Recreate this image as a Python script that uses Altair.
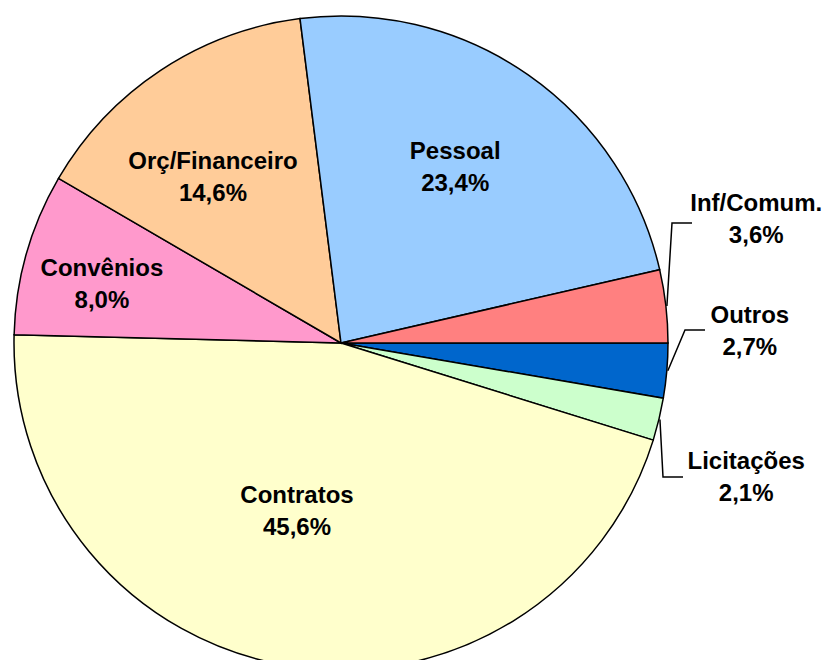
import math
import altair as alt
import pandas as pd

# ---- data ----
categories = ["Outros", "Licitações", "Contratos", "Convênios",
              "Orç/Financeiro", "Pessoal", "Inf/Comum."]
shares = [2.7, 2.1, 45.6, 8.0, 14.6, 23.4, 3.6]
share_labels = ["2,7%", "2,1%", "45,6%", "8,0%", "14,6%", "23,4%", "3,6%"]

# ---- style ----
colors = ["#0066CC", "#CCFFCC", "#FFFFCC", "#FF99CC", "#FFCC99", "#99CCFF", "#FF8080"]
W, H = 816, 652
CX, CY, R = 333, 335, 327
START = math.pi / 2  # first slice starts at 3 o'clock
LINE_H = 32
FONT_SIZE = 24
# label placement relative to each slice's mid-angle
label_radius = [409, 427, 175, 246, 209, 209, 433]
label_shift_deg = [-6.4, 4.9, 5.2, -2.2, -4.3, -1.8, -10.0]
# leader lines (elbow and end points) for the small slices
leader_elbow = {"Inf/Comum.": (664, 215), "Outros": (677, 322), "Licitações": (655, 469)}
leader_end = {"Inf/Comum.": (684, 215), "Outros": (697, 322), "Licitações": (675, 469)}
FONT = "Liberation Sans"

total = sum(shares)
order = list(range(len(categories)))
df = pd.DataFrame({"cat": categories, "share": shares, "ord": order})

# mid-angles computed from the data
mids = []
acc = 0.0
for s in shares:
    mids.append(START + 2 * math.pi * (acc + s / 2) / total)
    acc += s

lab_rows = []
for c, lbl, m, r, sh in zip(categories, share_labels, mids, label_radius, label_shift_deg):
    a = m + math.radians(sh)
    lab_rows.append({"cat": c, "txt": c + "\n" + lbl,
                     "px": CX + r * math.sin(a),
                     "py": CY - r * math.cos(a) - LINE_H / 2})
lab_df = pd.DataFrame(lab_rows)

line_rows = []
for c, m in zip(categories, mids):
    if c in leader_elbow:
        line_rows.append({"cat": c, "i": 0, "px": CX + (R + 1) * math.sin(m), "py": CY - (R + 1) * math.cos(m)})
        line_rows.append({"cat": c, "i": 1, "px": leader_elbow[c][0], "py": leader_elbow[c][1]})
        line_rows.append({"cat": c, "i": 2, "px": leader_end[c][0], "py": leader_end[c][1]})
line_df = pd.DataFrame(line_rows)

pie = alt.Chart(df).mark_arc(outerRadius=R, stroke="black", strokeWidth=1.5).encode(
    theta=alt.Theta("share:Q", stack=True,
                    scale=alt.Scale(range=[START, START + 2 * math.pi])),
    order=alt.Order("ord:Q"),
    color=alt.Color("cat:N", scale=alt.Scale(domain=categories, range=colors), legend=None),
    x=alt.value(CX), y=alt.value(CY),
)

leaders = alt.Chart(line_df).mark_line(color="black", strokeWidth=1.5).encode(
    x=alt.X("px:Q", scale=None, axis=None),
    y=alt.Y("py:Q", scale=None, axis=None),
    detail="cat:N",
    order="i:Q",
)

labels = alt.Chart(lab_df).mark_text(
    font=FONT, fontSize=FONT_SIZE, fontWeight="bold", color="black",
    lineBreak="\n", lineHeight=LINE_H, align="center", baseline="middle",
).encode(
    x=alt.X("px:Q", scale=None, axis=None),
    y=alt.Y("py:Q", scale=None, axis=None),
    text="txt:N",
)

chart = alt.layer(pie, leaders, labels).resolve_scale(x="independent", y="independent").properties(
    width=W, height=H, autosize=alt.AutoSizeParams(type="none"), padding=0,
    background="white",
).configure_view(stroke=None)

chart.save("out.html", embed_options={"renderer": "svg", "actions": False})
